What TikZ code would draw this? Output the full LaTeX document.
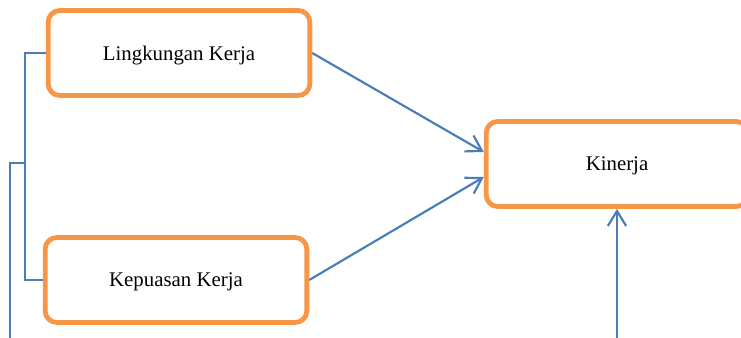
\documentclass[tikz,border=0pt]{standalone}
\usepackage{fontspec}
\setmainfont{Liberation Serif}
\usetikzlibrary{arrows.meta}
\definecolor{boxorange}{RGB}{247,150,70}
\definecolor{lineblue}{RGB}{74,126,187}

\begin{document}
\begin{tikzpicture}[x=0.6pt,y=-0.6pt,
        kotak/.style={draw=boxorange, line width=2.9pt, rounded corners=7pt,
            minimum width=157pt, minimum height=51pt, text depth=0pt,
            font=\fontsize{12.5}{15}\selectfont},
        garis/.style={draw=lineblue, line width=1.3pt},
        panah/.style={garis, -{Straight Barb[length=9pt,width=11pt]}}]
                \clip (0,0) rectangle (741,338);
                \node[kotak] (lk) at (179,53) {Lingkungan Kerja};
                \node[kotak] (kk) at (176,280) {Kepuasan Kerja};
                \node[kotak] (kin) at (617,164) {Kinerja};
                \coordinate (cabang) at (26,163);
                \coordinate (kiri) at (10,338);
                \coordinate (bawah) at (kin.south |- 0,338);
                % kurung kiri
                \draw[garis] (lk.west) -- ++(-21,0) |- (kk.west);
                \draw[garis] (cabang) -| (kiri);
                % panah ke kinerja
                \draw[panah] (lk.east) -- ([yshift=7.2pt]kin.west);
                \draw[panah] (kk.east) -- ([yshift=-7.8pt]kin.west);
                \draw[panah] (bawah) -- (kin.south);
            \end{tikzpicture}
\end{document}
